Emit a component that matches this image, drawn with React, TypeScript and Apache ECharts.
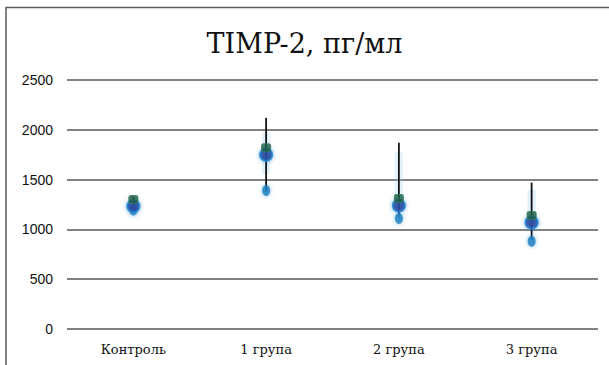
import React, { useEffect, useRef } from "react";
import * as echarts from "echarts";

const categories = ["Контроль", "1 група", "2 група", "3 група"];
const lineHigh = [1330, 2120, 1870, 1470];
const lineLow = [1200, 1380, 1130, 900];
const faintHigh = [1300, 1980, 1780, 1400];
const faintLow = [1200, 1550, 1250, 1100];
const greenMark = [1300, 1820, 1310, 1140];
const meanMark = [1235, 1750, 1240, 1070];
const lowMark = [1195, 1390, 1110, 880];
const yTicks = [0, 500, 1000, 1500, 2000, 2500];

export default function App() {
  const ref = useRef<HTMLDivElement>(null);
  useEffect(() => {
    const chart = echarts.init(ref.current!, null, { renderer: "svg" });
    chart.setOption({
      animation: false,
      backgroundColor: "#ffffff",
      title: {
        text: "TIMP-2, пг/мл",
        left: "center",
        top: 25,
        textStyle: { fontFamily: "DejaVu Serif", fontSize: 27, fontWeight: "normal", color: "#111" },
      },
      graphic: [
        {
          type: "polyline",
          shape: { points: [[6, 400], [6, 7.5], [700, 7.5]] },
          style: { stroke: "#5a5a5a", lineWidth: 1.5, fill: null },
          z: 10,
        },
      ],
      grid: { left: 67, right: 11, top: 80, bottom: 36 },
      xAxis: {
        type: "category",
        data: categories,
        axisLine: { show: false },
        axisTick: { show: false },
        axisLabel: { fontFamily: "DejaVu Serif", fontSize: 13, color: "#111", margin: 14 },
      },
      yAxis: {
        type: "value",
        min: yTicks[0],
        max: yTicks[yTicks.length - 1],
        interval: 500,
        axisLine: { show: false },
        axisTick: { show: false },
        axisLabel: {
          fontFamily: "Liberation Sans",
          fontSize: 14,
          color: "#111",
          margin: 14,
          formatter: (v: number) => String(v),
        },
        splitLine: { lineStyle: { color: "#595959", width: 1.5 } },
      },
      series: [
        {
          type: "custom",
          renderItem: (params: any, api: any) => {
            const x = api.coord([api.value(0), 0])[0];
            const fh = api.coord([api.value(0), api.value(3)])[1];
            const fl = api.coord([api.value(0), api.value(4)])[1];
            const h = api.coord([api.value(0), api.value(1)])[1];
            const l = api.coord([api.value(0), api.value(2)])[1];
            return {
              type: "group",
              children: [
                {
                  type: "rect",
                  shape: { x: x - 4, y: fh, width: 8, height: fl - fh, r: 3 },
                  style: { fill: "rgba(140,200,235,0.25)" },
                },
                {
                  type: "line",
                  shape: { x1: x, y1: h, x2: x, y2: l },
                  style: { stroke: "#111", lineWidth: 1.8 },
                },
              ],
            };
          },
          data: categories.map((c, i) => [i, lineHigh[i], lineLow[i], faintHigh[i], faintLow[i]]),
          z: 2,
        },
        {
          type: "scatter",
          data: lowMark.map((v, i) => [i, v]),
          symbolSize: [8, 11],
          itemStyle: { color: "#1a7fc0", shadowBlur: 4, shadowColor: "rgba(40,140,210,0.7)" },
          z: 3,
        },
        {
          type: "scatter",
          data: meanMark.map((v, i) => [i, v]),
          symbolSize: 12,
          itemStyle: { color: "#2a3a9a", borderColor: "#1f7fcc", borderWidth: 2, shadowBlur: 4, shadowColor: "rgba(40,140,210,0.8)" },
          z: 4,
        },
        {
          type: "scatter",
          data: greenMark.map((v, i) => [i, v]),
          symbol: "roundRect",
          symbolSize: [9, 8],
          itemStyle: { color: "#1f5c45", borderColor: "#2e7d5e", borderWidth: 1 },
          z: 5,
        },
      ],
    });
    return () => chart.dispose();
  }, []);
  return <div ref={ref} style={{ width: 609, height: 365, position: "absolute", left: 0, top: 0 }} />;
}
